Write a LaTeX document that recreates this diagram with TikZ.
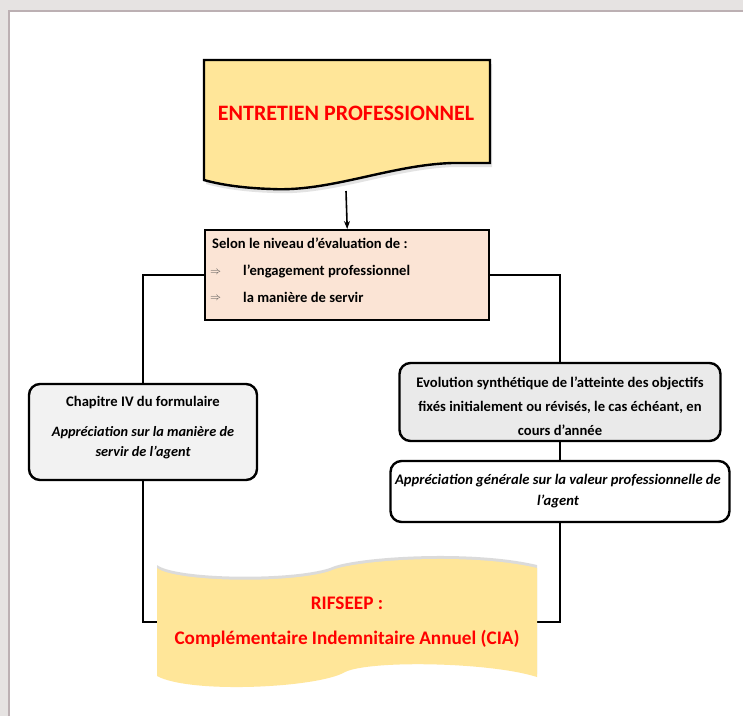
\documentclass[tikz,border=0pt]{standalone}
\usepackage{fontspec}
\setmainfont{Carlito}
\usetikzlibrary{shadows,arrows.meta}
\definecolor{bgcol}{HTML}{E6E3E2}
\definecolor{framecol}{HTML}{BCB0B3}
\definecolor{gold}{HTML}{FFE699}
\definecolor{peach}{HTML}{FBE4D5}
\definecolor{grayA}{HTML}{F2F2F2}
\definecolor{grayB}{HTML}{EAEAEA}
\definecolor{redtxt}{HTML}{FF0000}
\begin{document}
\begin{tikzpicture}[x=1pt,y=-1pt,
  conn/.style={draw=black, line width=2.4pt},
  rbox/.style={draw=black, line width=2.4pt, rounded corners=11pt, align=center, inner sep=0pt},
  title/.style={text=redtxt, font=\fontsize{22}{26}\selectfont\bfseries},
  btitle/.style={text=redtxt, font=\fontsize{19.2}{23}\selectfont\bfseries},
  btxt/.style={font=\fontsize{14.6}{17}\selectfont\bfseries, inner sep=0pt},
  bitxt/.style={font=\fontsize{14.6}{21}\selectfont\bfseries\itshape, align=center, inner sep=0pt},
  arr/.style={draw=black, line width=1.6pt, -{Stealth[length=8pt,width=6pt]}}
]
\useasboundingbox (0,0) rectangle (743,716);
\fill[bgcol] (0,0) rectangle (743,716);
\fill[white] (9,11) rectangle (743,716);
\draw[framecol, line width=2pt] (9,716) -- (9,11) -- (743,11);

% boxes and connectors (behind)
\node[draw=black, line width=2.4pt, fill=peach, minimum width=284, minimum height=90, anchor=north west, inner sep=0pt] (crit) at (204,229) {};
\node[rbox, fill=grayA, minimum width=228, minimum height=96] (chap) at (143,432) {};
\node[rbox, fill=grayB, minimum width=321, minimum height=78] (evo) at (560,402) {};
\node[rbox, fill=white, minimum width=339, minimum height=61] (app) at (560,491.5) {};
\coordinate (rifl) at (170,622);
\coordinate (rifr) at (530,622);
\draw[conn] (crit.west) -| (chap.north);
\draw[conn] (crit.east) -| (evo.north);
\draw[conn] (evo.south) -- (app.north);
\draw[conn] (chap.south) |- (rifl);
\draw[conn] (app.south) |- (rifr);

% top document shape
\path[fill=gold, draw=black, line width=2.4pt, drop shadow={opacity=0.22, shadow xshift=2pt, shadow yshift=-4pt}]
  (204,60) -- (490,60) -- (490,163) -- (452,163)
  .. controls (390,165) and (330,192) .. (272,189)
  .. controls (240,188) and (218,184) .. (204,180) -- cycle;
\node[title] (ep) at (346,113) {ENTRETIEN PROFESSIONNEL};
\coordinate (epb) at (346,191);
\draw[arr] (epb) -- (crit.north);

% criteria text
\node[btxt, anchor=west] (c0) at (212,243) {Selon le niveau d’évaluation de :};
\node[font=\fontsize{11}{13}\selectfont, inner sep=0pt, anchor=west, text=black!70] (a1) at (210,272) {\(\Rightarrow\)};
\node[btxt, anchor=west] (c1) at (243,271) {l’engagement professionnel};
\node[font=\fontsize{11}{13}\selectfont, inner sep=0pt, anchor=west, text=black!70] (a2) at (210,298) {\(\Rightarrow\)};
\node[btxt, anchor=west] (c2) at (243,297) {la manière de servir};

% left box text
\node[btxt] (ch1) at (143,403) {Chapitre IV du formulaire};
\node[font=\fontsize{14.3}{20}\selectfont\bfseries\itshape, align=center, inner sep=0pt] (ch2) at (143,443) {Appréciation sur la manière de\\servir de l’agent};

% evolution text
\node[font=\fontsize{14.6}{24}\selectfont\bfseries, align=center, inner sep=0pt] (ev) at (560,406) {Evolution synthétique de l’atteinte des objectifs\\fixés initialement ou révisés, le cas échéant, en\\cours d’année};

% appreciation text
\node[bitxt] (ap) at (558,491) {Appréciation générale sur la valeur professionnelle de\\l’agent};

% banner
\path[fill=gold, drop shadow={opacity=0.28, shadow xshift=0pt, shadow yshift=3pt}]
  (157,568) .. controls (175,582) and (290,584) .. (330,571)
  .. controls (352,560) and (470,552) .. (537,568)
  -- (537,677)
  .. controls (490,662) and (370,660) .. (345,672)
  .. controls (318,688) and (190,694) .. (157,676) -- cycle;
\node[btitle] (r1) at (347,603) {RIFSEEP :};
\node[btitle] (r2) at (347,639) {Complémentaire Indemnitaire Annuel (CIA)};
\end{tikzpicture}
\end{document}
